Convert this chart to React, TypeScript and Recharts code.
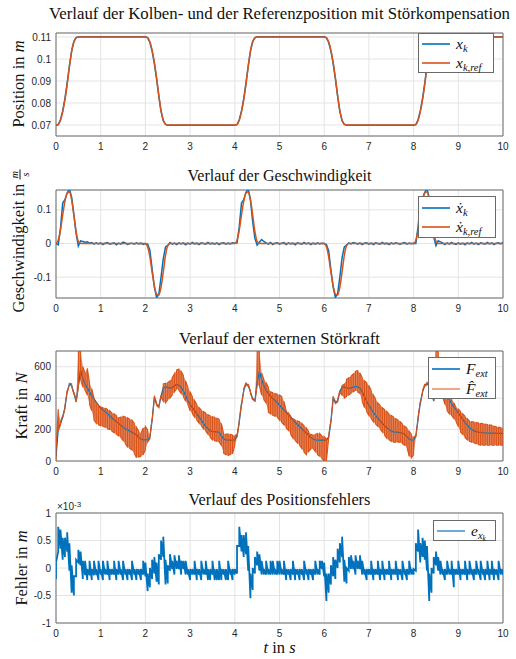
import React from 'react';
import { ComposedChart, Line, Area, XAxis, YAxis, CartesianGrid, ReferenceArea } from 'recharts';

const BLUE = '#0072BD';
const ORANGE = '#D95319';
const SERIF = '"Liberation Serif", "Times New Roman", serif';
const SANS = '"Liberation Sans", Arial, sans-serif';

// ---------- ticks ----------
const X_TICKS = [0, 1, 2, 3, 4, 5, 6, 7, 8, 9, 10];
const POS_TICKS = [0.07, 0.08, 0.09, 0.1, 0.11];
const VEL_TICKS = [-0.1, 0, 0.1];
const FORCE_TICKS = [0, 200, 400, 600];
const ERR_TICKS = [-1, -0.5, 0, 0.5, 1]; // in 1e-3 m

// ---------- position (transition samples) ----------
const POS_T = [
  0, 0.05, 0.1, 0.15, 0.2, 0.25, 0.3, 0.35, 0.4, 0.45, 0.5,
  2, 2.05, 2.1, 2.15, 2.2, 2.25, 2.3, 2.35, 2.4, 2.45, 2.5,
  4, 4.05, 4.1, 4.15, 4.2, 4.25, 4.3, 4.35, 4.4, 4.45, 4.5,
  6, 6.05, 6.1, 6.15, 6.2, 6.25, 6.3, 6.35, 6.4, 6.45, 6.5,
  8, 8.05, 8.1, 8.15, 8.2, 8.25, 8.3, 8.35, 8.4, 8.45, 8.5,
  10,
];
const X_REF = [
  0.07, 0.0703, 0.0722, 0.076, 0.0815, 0.0885, 0.0965, 0.1035, 0.1078, 0.1096, 0.11,
  0.11, 0.1097, 0.1078, 0.104, 0.0985, 0.0915, 0.0835, 0.0765, 0.0722, 0.0704, 0.07,
  0.07, 0.0703, 0.0722, 0.076, 0.0815, 0.0885, 0.0965, 0.1035, 0.1078, 0.1096, 0.11,
  0.11, 0.1097, 0.1078, 0.104, 0.0985, 0.0915, 0.0835, 0.0765, 0.0722, 0.0704, 0.07,
  0.07, 0.0703, 0.0722, 0.076, 0.0815, 0.0885, 0.0965, 0.1035, 0.1078, 0.1096, 0.11,
  0.11,
];
const X_K = [
  0.0698, 0.0702, 0.0724, 0.0764, 0.082, 0.089, 0.0968, 0.1036, 0.1079, 0.1097, 0.1101,
  0.1101, 0.1096, 0.1075, 0.1036, 0.098, 0.091, 0.0831, 0.0762, 0.072, 0.0703, 0.0699,
  0.0699, 0.0702, 0.0724, 0.0764, 0.082, 0.089, 0.0968, 0.1036, 0.1079, 0.1097, 0.1101,
  0.1101, 0.1096, 0.1075, 0.1036, 0.098, 0.091, 0.0831, 0.0762, 0.072, 0.0703, 0.0699,
  0.0699, 0.0702, 0.0724, 0.0764, 0.082, 0.089, 0.0968, 0.1036, 0.1079, 0.1097, 0.1101,
  0.1101,
];

// ---------- sample times, 0.05 s (201 samples) ----------
const T = Array.from({ length: 201 }, (_, i) => Math.round(i * 5) / 100);

// velocity
const VEL_K = [
  0, -0.004, 0.045, 0.12, 0.13, 0.15, 0.162, 0.138, 0.085, 0.03, -0.008, 0.008, 0.006, 0.004, 0.005, 0.001, 0.003, -0.002, 0.002, -0.001,
  0.002, -0.003, 0.001, 0.003, -0.002, 0, 0.002, -0.004, 0.001, -0.002, 0.004, 0.002, -0.003, 0, 0.001, -0.002, 0.002, -0.001, 0.001, -0.003,
  0, -0.002, -0.02, -0.075, -0.13, -0.16, -0.152, -0.1, -0.045, -0.01, -0.006, 0.003, -0.002, 0.001, -0.003, 0.002, -0.001, 0.002, -0.004, 0.001,
  -0.002, 0.003, -0.001, 0.001, -0.003, 0.002, 0, -0.002, 0.003, -0.001, 0.001, -0.002, 0.002, -0.003, 0.001, 0.002, -0.002, 0.001, -0.001, 0.002,
  0.001, 0.002, 0.05, 0.12, 0.13, 0.152, 0.162, 0.13, 0.065, 0.015, -0.005, 0.004, 0.012, 0.006, 0.002, -0.002, 0.003, -0.003, 0.001, 0.002,
  -0.002, 0.001, 0.003, -0.003, 0.002, -0.001, 0.001, -0.004, 0.002, 0, -0.002, 0.003, -0.001, 0.002, -0.003, 0.001, -0.002, 0.002, -0.001, 0.001,
  0, -0.003, -0.022, -0.078, -0.13, -0.16, -0.15, -0.1, -0.042, -0.01, -0.005, 0.002, -0.001, 0.003, 0.001, -0.002, 0.002, -0.003, 0.001, 0.002,
  -0.002, 0.001, -0.003, 0.002, 0, -0.002, 0.003, -0.001, 0.001, -0.003, 0.002, -0.001, 0.002, 0, -0.002, 0.001, 0.003, -0.002, 0.001, -0.001,
  0.001, 0, 0.05, 0.12, 0.135, 0.152, 0.163, 0.135, 0.07, 0.02, -0.006, 0.008, 0.005, 0.002, -0.003, 0.002, -0.002, 0.003, -0.001, -0.003,
  0.002, -0.002, 0.001, -0.004, 0.002, -0.001, 0.003, -0.002, 0.001, -0.003, 0.002, 0, -0.002, 0.003, -0.001, 0.002, -0.003, 0.001, 0.002, -0.001,
  0.003,
];
const VEL_REF = [
  0, 0.01, 0.04, 0.085, 0.125, 0.15, 0.153, 0.13, 0.085, 0.035, 0.006, 0, 0, 0, 0, 0, 0, 0, 0, 0,
  0, 0, 0, 0, 0, 0, 0, 0, 0, 0, 0, 0, 0, 0, 0, 0, 0, 0, 0, 0,
  0, -0.01, -0.04, -0.085, -0.125, -0.15, -0.153, -0.13, -0.085, -0.035, -0.006, 0, 0, 0, 0, 0, 0, 0, 0, 0,
  0, 0, 0, 0, 0, 0, 0, 0, 0, 0, 0, 0, 0, 0, 0, 0, 0, 0, 0, 0,
  0, 0.01, 0.04, 0.085, 0.125, 0.15, 0.153, 0.13, 0.085, 0.035, 0.006, 0, 0, 0, 0, 0, 0, 0, 0, 0,
  0, 0, 0, 0, 0, 0, 0, 0, 0, 0, 0, 0, 0, 0, 0, 0, 0, 0, 0, 0,
  0, -0.01, -0.04, -0.085, -0.125, -0.15, -0.153, -0.13, -0.085, -0.035, -0.006, 0, 0, 0, 0, 0, 0, 0, 0, 0,
  0, 0, 0, 0, 0, 0, 0, 0, 0, 0, 0, 0, 0, 0, 0, 0, 0, 0, 0, 0,
  0, 0.01, 0.04, 0.085, 0.125, 0.15, 0.153, 0.13, 0.085, 0.035, 0.006, 0, 0, 0, 0, 0, 0, 0, 0, 0,
  0, 0, 0, 0, 0, 0, 0, 0, 0, 0, 0, 0, 0, 0, 0, 0, 0, 0, 0, 0,
  0,
];

// external force (blue) and estimated force, oscillation low/high (orange)
const F_EXT = [
  30, 200, 235, 280, 340, 440, 490, 480, 430, 378, 480, 578, 525, 490, 465, 440, 412, 395, 375, 355,
  335, 325, 315, 300, 290, 275, 262, 250, 240, 228, 215, 205, 198, 190, 182, 175, 168, 150, 140, 135,
  135, 136, 150, 260, 405, 360, 345, 410, 465, 472, 468, 463, 468, 478, 488, 482, 468, 445, 415, 385,
  360, 340, 320, 300, 280, 260, 240, 220, 205, 192, 188, 186, 185, 183, 160, 140, 135, 133, 133, 133,
  135, 160, 250, 360, 450, 490, 480, 440, 395, 382, 500, 568, 520, 480, 450, 430, 412, 398, 385, 372,
  355, 340, 325, 310, 295, 280, 262, 245, 232, 218, 205, 190, 178, 165, 150, 140, 135, 133, 132, 132,
  132, 135, 150, 250, 400, 372, 380, 440, 470, 472, 465, 462, 465, 470, 475, 472, 465, 440, 410, 380,
  355, 330, 310, 290, 272, 255, 240, 225, 212, 200, 190, 186, 184, 182, 180, 178, 170, 155, 140, 135,
  133, 160, 270, 370, 440, 480, 492, 480, 430, 382, 500, 570, 520, 480, 445, 415, 390, 365, 345, 325,
  305, 285, 265, 245, 228, 212, 200, 192, 187, 184, 182, 180, 179, 178, 178, 177, 177, 176, 176, 176,
  176,
];
const FH_LO = [
  0, 190, 230, 275, 335, 435, 485, 475, 425, 375, 470, 520, 470, 450, 420, 360, 320, 260, 240, 230,
  225, 220, 215, 205, 200, 190, 180, 170, 160, 150, 130, 110, 90, 80, 70, 50, 20, 25, 30, 40,
  70, 120, 140, 255, 400, 355, 340, 405, 380, 370, 390, 400, 420, 440, 460, 450, 430, 410, 380, 360,
  320, 300, 280, 260, 240, 225, 205, 190, 170, 150, 135, 128, 125, 120, 100, 50, 40, 35, 40, 45,
  100, 150, 245, 355, 445, 485, 475, 430, 388, 378, 480, 480, 420, 390, 370, 310, 300, 290, 285, 280,
  260, 245, 230, 210, 195, 170, 145, 130, 115, 100, 80, 55, 40, 60, 75, 80, 60, 40, 30, 15,
  0, 0, 145, 245, 395, 365, 375, 435, 420, 400, 410, 420, 430, 440, 450, 440, 430, 380, 340, 315,
  290, 270, 250, 235, 220, 205, 185, 165, 145, 135, 125, 120, 120, 120, 120, 110, 100, 90, 30, 20,
  40, 150, 265, 365, 435, 475, 485, 470, 420, 380, 480, 500, 440, 410, 360, 320, 300, 290, 270, 250,
  220, 185, 170, 150, 135, 125, 120, 115, 110, 105, 100, 100, 100, 100, 100, 100, 100, 100, 100, 100,
  100,
];
const FH_HI = [
  70, 330, 250, 290, 350, 450, 495, 490, 440, 390, 700, 700, 600, 560, 590, 500, 460, 400, 370, 355,
  345, 340, 335, 330, 320, 305, 300, 290, 275, 280, 285, 280, 275, 265, 260, 240, 215, 190, 175, 210,
  220, 200, 155, 270, 415, 370, 350, 420, 490, 495, 500, 510, 530, 555, 580, 585, 570, 545, 510, 470,
  440, 410, 385, 360, 340, 325, 315, 305, 295, 288, 282, 278, 272, 265, 240, 175, 170, 172, 170, 165,
  160, 170, 260, 370, 460, 500, 490, 445, 400, 390, 700, 700, 560, 520, 500, 470, 440, 435, 430, 425,
  420, 410, 380, 320, 305, 285, 270, 262, 255, 250, 240, 225, 210, 190, 170, 165, 170, 175, 175, 160,
  155, 140, 160, 260, 410, 380, 390, 450, 480, 490, 520, 530, 540, 555, 570, 575, 560, 530, 510, 500,
  480, 450, 420, 395, 370, 355, 340, 328, 315, 300, 290, 280, 270, 262, 250, 235, 222, 210, 190, 170,
  150, 165, 280, 380, 450, 490, 500, 490, 440, 395, 700, 700, 600, 560, 480, 440, 420, 400, 370, 340,
  330, 315, 300, 285, 270, 255, 250, 248, 245, 242, 240, 238, 235, 232, 230, 228, 222, 218, 215, 212,
  210,
];

// position error oscillation low/high (in 1e-3 m)
const E_LO = [
  -0.2, 0.3, 0.35, 0.15, 0.2, 0.3, -0.05, -0.45, -0.5, -0.15, 0.1, 0.05, -0.2, -0.13, -0.22, -0.13, -0.22, -0.13, -0.13, -0.22,
  -0.12, -0.22, -0.12, -0.12, -0.22, -0.12, -0.12, -0.22, -0.12, -0.12, -0.22, -0.12, -0.22, -0.12, -0.22, -0.12, -0.22, -0.12, -0.22, -0.12,
  -0.15, -0.42, -0.35, -0.2, -0.1, -0.25, -0.3, 0.15, 0.2, -0.3, -0.28, -0.05, -0.02, -0.12, -0.02, -0.02, -0.12, -0.02, -0.12, -0.12,
  -0.22, -0.12, -0.12, -0.22, -0.12, -0.22, -0.12, -0.12, -0.22, -0.22, -0.12, -0.22, -0.22, -0.22, -0.22, -0.12, -0.22, -0.22, -0.12, -0.22,
  -0.12, -0.1, 0.4, 0.3, 0.2, 0.25, -0.05, -0.55, -0.4, -0.1, 0.05, -0.05, -0.12, -0.12, -0.12, -0.12, -0.12, -0.12, -0.12, -0.12,
  -0.12, -0.12, -0.12, -0.22, -0.12, -0.22, -0.12, -0.22, -0.12, -0.22, -0.12, -0.22, -0.12, -0.22, -0.12, -0.22, -0.12, -0.12, -0.12, -0.02,
  -0.15, -0.6, -0.45, -0.3, -0.15, -0.2, 0, 0.1, 0.2, -0.25, -0.28, -0.05, -0.02, -0.02, -0.12, -0.02, -0.02, -0.12, -0.12, -0.22,
  -0.12, -0.12, -0.22, -0.12, -0.12, -0.22, -0.12, -0.22, -0.12, -0.12, -0.22, -0.12, -0.12, -0.22, -0.12, -0.22, -0.12, -0.22, -0.12, -0.12,
  -0.12, -0.05, 0.3, 0.1, 0.2, 0.15, -0.05, -0.6, -0.45, -0.1, 0.05, -0.05, -0.12, -0.12, -0.22, -0.12, -0.12, -0.12, -0.35, -0.12,
  -0.12, -0.22, -0.12, -0.12, -0.22, -0.12, -0.12, -0.22, -0.12, -0.12, -0.22, -0.12, -0.22, -0.12, -0.22, -0.12, -0.22, -0.12, -0.22, -0.12,
  -0.12,
];
const E_HI = [
  0.1, 0.75, 0.7, 0.55, 0.55, 0.65, 0.45, 0.05, -0.15, 0.15, 0.33, 0.3, 0.13, 0.13, -0.02, 0.13, -0.02, 0.13, -0.02, 0.13,
  -0.02, 0.13, -0.02, 0.13, -0.02, -0.02, 0.13, -0.02, 0.13, -0.02, 0.13, -0.02, -0.02, -0.02, 0.13, -0.02, -0.02, -0.02, -0.02, 0.13,
  0.1, -0.1, 0, 0.15, 0.2, 0.1, 0.25, 0.5, 0.57, 0.15, 0.05, 0.25, 0.13, 0.23, 0.13, 0.23, 0.13, 0.13, 0.13, -0.02,
  -0.02, -0.02, 0.13, -0.02, -0.02, 0.13, -0.02, 0.13, -0.02, -0.02, 0.13, -0.02, -0.02, 0.13, -0.02, -0.02, -0.02, 0.13, -0.02, -0.02,
  -0.02, 0.4, 0.75, 0.6, 0.6, 0.65, 0.4, -0.1, 0, 0.2, 0.3, 0.25, 0.13, -0.02, 0.13, -0.02, 0.13, 0.13, -0.02, 0.13,
  0.13, -0.02, 0.13, -0.02, -0.02, -0.02, 0.13, -0.02, -0.02, -0.02, -0.02, 0.13, -0.02, -0.02, -0.02, -0.02, 0.13, -0.02, 0.13, 0.13,
  0.1, -0.1, -0.1, 0.05, 0.2, 0.15, 0.35, 0.45, 0.57, 0.15, 0, 0.2, 0.23, 0.13, 0.23, 0.13, 0.23, 0.13, -0.02, -0.02,
  -0.02, 0.13, -0.02, -0.02, 0.13, -0.02, 0.13, -0.02, -0.02, 0.13, -0.02, -0.02, 0.13, -0.02, -0.02, 0.13, -0.02, -0.02, 0.13, -0.02,
  -0.02, 0.45, 0.7, 0.45, 0.55, 0.5, 0.4, -0.1, 0, 0.2, 0.3, 0.2, 0.13, -0.02, -0.02, 0.13, -0.02, 0.13, -0.02, -0.02,
  0.13, -0.02, -0.02, 0.13, -0.02, 0.13, -0.02, -0.02, 0.13, -0.02, 0.13, -0.02, -0.02, 0.13, -0.02, 0.13, -0.02, -0.02, 0.13, -0.02,
  -0.02,
];

// ---------- chart tables ----------
const posData = POS_T.map((t, i) => ({ t, xk: X_K[i], xref: X_REF[i] }));
const velData = T.map((t, i) => ({ t, vk: VEL_K[i], vref: VEL_REF[i] }));
const forceData = T.map((t, i) => ({ t, f: F_EXT[i], band: [FH_LO[i], FH_HI[i]] }));
// oscillating force: each sample drawn as a vertical stroke low↔high (ladder order)
const forceHatch = T.flatMap((t, i) =>
  i % 2 === 0 ? [{ t, v: FH_LO[i] }, { t, v: FH_HI[i] }] : [{ t, v: FH_HI[i] }, { t, v: FH_LO[i] }]
);
// quantised error: each sample drawn as a stroke from its low to its high value (sawtooth order)
const errHatch = T.flatMap((t, i) => [{ t, v: E_LO[i] }, { t, v: E_HI[i] }]);

const W = 516;
const MT = 8;
const tickStyle = { fontSize: 10, fill: '#262626', fontFamily: SANS };

function Panel({ plotTop, plotH, data, yDomain, yTicks, children }: any) {
  return (
    <div style={{ position: 'absolute', left: 0, top: plotTop - MT }}>
      <ComposedChart width={W} height={plotH + 20 + MT} data={data} margin={{ top: MT, right: 13, bottom: 0, left: 0 }}>
        <CartesianGrid stroke="#e4e4e4" strokeWidth={1} />
        <XAxis
          dataKey="t"
          type="number"
          domain={[0, 10]}
          ticks={X_TICKS}
          allowDataOverflow
          height={20}
          tickLine={false}
          axisLine={false}
          tickSize={5}
          tickMargin={2}
          tick={tickStyle}
          interval={0}
        />
        <YAxis
          type="number"
          domain={yDomain}
          ticks={yTicks}
          allowDataOverflow
          width={56}
          tickLine={false}
          axisLine={false}
          tickSize={3}
          tickMargin={2}
          tick={tickStyle}
          interval={0}
          tickFormatter={(v: number) => String(v)}
        />
        {children}
        <ReferenceArea
          x1={0}
          x2={10}
          y1={yDomain[0]}
          y2={yDomain[1]}
          fill="none"
          fillOpacity={0}
          stroke="#6f6f6f"
          strokeWidth={1}
          ifOverflow="visible"
        />
      </ComposedChart>
    </div>
  );
}

function Title({ y, size, children }: any) {
  return (
    <div
      style={{
        position: 'absolute',
        left: 279.5,
        top: y,
        transform: 'translate(-50%, -50%)',
        fontFamily: SERIF,
        fontSize: size,
        color: '#111',
        whiteSpace: 'nowrap',
        lineHeight: 1,
      }}
    >
      {children}
    </div>
  );
}

function YLabel({ x, y, children }: any) {
  return (
    <div
      style={{
        position: 'absolute',
        left: x,
        top: y,
        transform: 'translate(-50%, -50%) rotate(-90deg)',
        fontFamily: SERIF,
        fontSize: 16.5,
        color: '#111',
        whiteSpace: 'nowrap',
        lineHeight: 1,
      }}
    >
      {children}
    </div>
  );
}

function LegendBox({ left, top, width, height, items }: any) {
  return (
    <div
      style={{
        position: 'absolute',
        left,
        top,
        width,
        height,
        boxSizing: 'border-box',
        border: '1px solid #6a6a6a',
        background: '#fff',
      }}
    >
      {items.map((it: any, i: number) => (
        <React.Fragment key={i}>
          <svg
            width={28}
            height={4}
            style={{ position: 'absolute', left: 3, top: it.dy - 2, display: 'block' }}
          >
            <line x1={0} y1={2} x2={28} y2={2} stroke={it.color} strokeWidth={1.6} />
          </svg>
          <div
            style={{
              position: 'absolute',
              left: 37,
              top: it.dy - 8,
              fontFamily: SERIF,
              fontSize: 15.5,
              fontStyle: 'italic',
              whiteSpace: 'nowrap',
              lineHeight: 1,
              color: '#111',
            }}
          >
            {it.label}
          </div>
        </React.Fragment>
      ))}
    </div>
  );
}

const sub = { fontSize: 10.5, position: 'relative' as const, top: 3 };

export default function App() {
  return (
    <div style={{ position: 'absolute', left: 0, top: 0, width: W, height: 659, background: '#fff', overflow: 'hidden' }}>
      {/* 1: position */}
      <Title y={13.5} size={16.8}>Verlauf der Kolben- und der Referenzposition mit Störkompensation</Title>
      <Panel plotTop={33} plotH={103} data={posData} yDomain={[0.065, 0.1118]} yTicks={POS_TICKS}>
        <Line dataKey="xk" stroke={BLUE} strokeWidth={1.5} dot={false} isAnimationActive={false} type="linear" />
        <Line dataKey="xref" stroke={ORANGE} strokeWidth={1.5} dot={false} isAnimationActive={false} type="monotone" />
      </Panel>
      <YLabel x={19} y={84}>
        Position in <i>m</i>
      </YLabel>
      <LegendBox
        left={418}
        top={33}
        width={76}
        height={40}
        items={[
          { color: BLUE, dy: 10, label: <span>x<span style={sub}>k</span></span> },
          { color: ORANGE, dy: 29, label: <span>x<span style={sub}>k,ref</span></span> },
        ]}
      />

      {/* 2: velocity */}
      <Title y={176} size={16}>Verlauf der Geschwindigkeit</Title>
      <Panel plotTop={190} plotH={108} data={velData} yDomain={[-0.162, 0.159]} yTicks={VEL_TICKS}>
        <Line dataKey="vk" stroke={BLUE} strokeWidth={1.5} dot={false} isAnimationActive={false} type="linear" />
        <Line dataKey="vref" stroke={ORANGE} strokeWidth={1.5} dot={false} isAnimationActive={false} type="monotone" />
      </Panel>
      <YLabel x={20} y={241}>
        Geschwindigkeit in{' '}
        <span style={{ display: 'inline-flex', flexDirection: 'column', alignItems: 'center', fontSize: 10, fontStyle: 'italic', verticalAlign: 'middle', lineHeight: 1 }}>
          <span>m</span>
          <span style={{ borderTop: '1px solid #111', width: 10, height: 0 }} />
          <span>s</span>
        </span>
      </YLabel>
      <LegendBox
        left={418}
        top={196}
        width={78}
        height={42}
        items={[
          { color: BLUE, dy: 11, label: <span>x&#775;<span style={sub}>k</span></span> },
          { color: ORANGE, dy: 30, label: <span>x&#775;<span style={sub}>k,ref</span></span> },
        ]}
      />

      {/* 3: force */}
      <Title y={339} size={16.8}>Verlauf der externen Störkraft</Title>
      <Panel plotTop={351} plotH={110} data={forceData} yDomain={[0, 700]} yTicks={FORCE_TICKS}>
        <Line dataKey="f" stroke={BLUE} strokeWidth={1.3} dot={false} isAnimationActive={false} type="linear" />
        <Area
          dataKey="band"
          type="linear"
          stroke="none"
          fill={ORANGE}
          fillOpacity={0.72}
          dot={false}
          activeDot={false}
          isAnimationActive={false}
        />
        <Line data={forceHatch} dataKey="v" stroke={ORANGE} strokeWidth={1.1} dot={false} isAnimationActive={false} type="linear" />
      </Panel>
      <YLabel x={22} y={406}>
        Kraft in <i>N</i>
      </YLabel>
      <LegendBox
        left={428}
        top={357}
        width={68}
        height={42}
        items={[
          { color: BLUE, dy: 11, label: <span>F<span style={sub}>ext</span></span> },
          { color: '#e8936b', dy: 31, label: <span>F&#770;<span style={sub}>ext</span></span> },
        ]}
      />

      {/* 4: error */}
      <Title y={500} size={16.3}>Verlauf des Positionsfehlers</Title>
      <div style={{ position: 'absolute', left: 57, top: 502, fontFamily: SANS, fontSize: 10, color: '#262626', whiteSpace: 'nowrap', lineHeight: 1 }}>
        ×10<span style={{ fontSize: 8, position: 'relative', top: -3 }}>-3</span>
      </div>
      <Panel plotTop={513} plotH={110} data={errHatch} yDomain={[-1, 1]} yTicks={ERR_TICKS}>
        <Line dataKey="v" stroke={BLUE} strokeWidth={1.8} dot={false} isAnimationActive={false} type="linear" />
      </Panel>
      <YLabel x={22} y={568}>
        Fehler in <i>m</i>
      </YLabel>
      <LegendBox
        left={433}
        top={520}
        width={63}
        height={21}
        items={[
          {
            color: '#4a94cf',
            dy: 10,
            label: (
              <span>
                e<span style={sub}>x<span style={{ fontSize: 7.5, position: 'relative', top: 2 }}>k</span></span>
              </span>
            ),
          },
        ]}
      />
      <div
        style={{
          position: 'absolute',
          left: 279.5,
          top: 648,
          transform: 'translate(-50%, -50%)',
          fontFamily: SERIF,
          fontSize: 16.5,
          color: '#111',
          whiteSpace: 'nowrap',
          lineHeight: 1,
        }}
      >
        <i>t</i> in <i>s</i>
      </div>
    </div>
  );
}
